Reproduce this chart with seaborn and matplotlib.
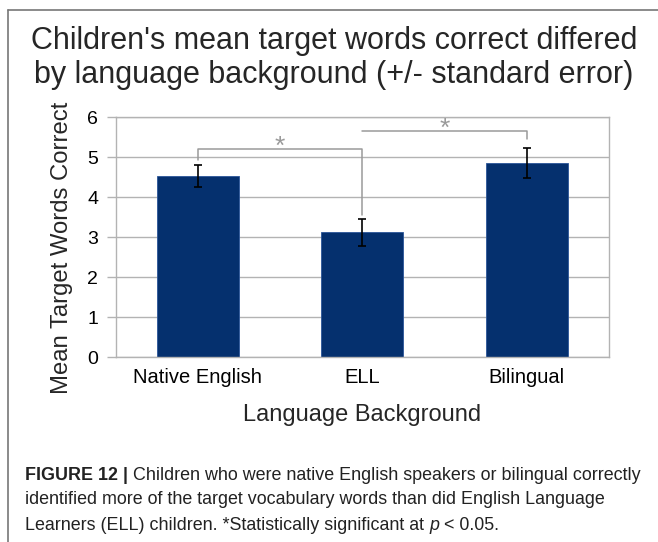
import matplotlib
matplotlib.use("Agg")
import matplotlib.pyplot as plt
import seaborn as sns
import pandas as pd
from matplotlib.lines import Line2D

categories = ["Native English", "ELL", "Bilingual"]
means = [4.52, 3.12, 4.85]
std_err = [0.28, 0.34, 0.38]
y_ticks = [0, 1, 2, 3, 4, 5, 6]
# significance brackets: (left category index, right category index, bracket height, left foot, right foot)
brackets = [(0, 1, 5.19, 4.92, 3.55), (1, 2, 5.64, 5.64, 5.44)]

sns.set_theme(style="white")
plt.rcParams['font.family'] = ['Liberation Sans', 'DejaVu Sans']

W, H = 658, 542
fig = plt.figure(figsize=(W / 100, H / 100), dpi=100)

def fx(px):
    return px / W

def fy(py):
    return 1 - py / H

ax = fig.add_axes([fx(115.7), fy(357), fx(609) - fx(115.7), fy(117) - fy(357)])

df = pd.DataFrame({"cat": categories, "mean": means})
sns.barplot(data=df, x="cat", y="mean", order=categories, color="#05306e",
            width=0.5, errorbar=None, ax=ax, saturation=1,
            edgecolor="#2a5599", linewidth=0.6, zorder=2)
ax.errorbar(range(len(categories)), means, yerr=std_err, fmt="none",
            ecolor="black", elinewidth=1.2, capsize=3.2, capthick=1.2, zorder=3)

ax.set_xlim(-0.5, len(categories) - 0.5)
ax.set_ylim(0, 6)
ax.set_yticks(y_ticks)
ax.set_yticklabels([str(t) for t in y_ticks], fontsize=14)
ax.set_xticks(range(len(categories)))
ax.set_xticklabels(categories, fontsize=14.5)
ax.set_xticks([i - 0.5 for i in range(len(categories) + 1)], minor=True)
ax.tick_params(axis="x", which="major", length=0, pad=8, colors="black")
ax.tick_params(axis="x", which="minor", length=6, width=1, color="#b3b3b3")
ax.tick_params(axis="y", which="major", length=6.5, width=1, color="#b3b3b3",
               pad=6, labelcolor="black", left=True)
ax.grid(axis="y", color="#b3b3b3", linewidth=1)
ax.set_axisbelow(True)
for s in ax.spines.values():
    s.set_visible(True)
    s.set_color("#b3b3b3")
    s.set_linewidth(1)

ax.set_xlabel("Language Background", fontsize=17, labelpad=12)
ax.set_ylabel("Mean Target Words Correct", fontsize=17.2, labelpad=10)
ax.yaxis.set_label_coords(-0.087, 0.454)

# significance brackets
for (a, b, h, fa, fb) in brackets:
    ax.plot([a, a, b, b], [fa, h, h, fb], color="#9a9a9a", lw=1.1, zorder=4, clip_on=False)
    ax.text((a + b) / 2, h - 0.1, "*", ha="center", va="baseline", fontsize=19,
            color="#9a9a9a", zorder=4)

# title
fig.text(fx(334), fy(41), "Children's mean target words correct differed",
         ha="center", va="center", fontsize=22)
fig.text(fx(334), fy(75), "by language background (+/- standard error)",
         ha="center", va="center", fontsize=22)

# frame lines
fig.add_artist(Line2D([fx(7.5), 1], [fy(10), fy(10)], color="#777777", lw=1.2))
fig.add_artist(Line2D([fx(7.5), fx(7.5)], [fy(10), 0], color="#777777", lw=1.2))

# caption
fig.canvas.draw()
renderer = fig.canvas.get_renderer()

def segments(x0, y0, segs):
    x = x0
    for txt, weight, style in segs:
        t = fig.text(fx(x), fy(y0), txt, ha="left", va="center", fontsize=12.85,
                     fontweight=weight, fontstyle=style, color="#222222")
        bb = t.get_window_extent(renderer=renderer)
        x += bb.width

segments(25, 475, [("FIGURE 12 | ", "bold", "normal"),
                   ("Children who were native English speakers or bilingual correctly", "normal", "normal")])
segments(25, 500, [("identified more of the target vocabulary words than did English Language", "normal", "normal")])
segments(25, 525, [("Learners (ELL) children. *Statistically significant at ", "normal", "normal"),
                   ("p", "normal", "italic"),
                   (" < 0.05.", "normal", "normal")])

fig.savefig("out.png", dpi=100)
